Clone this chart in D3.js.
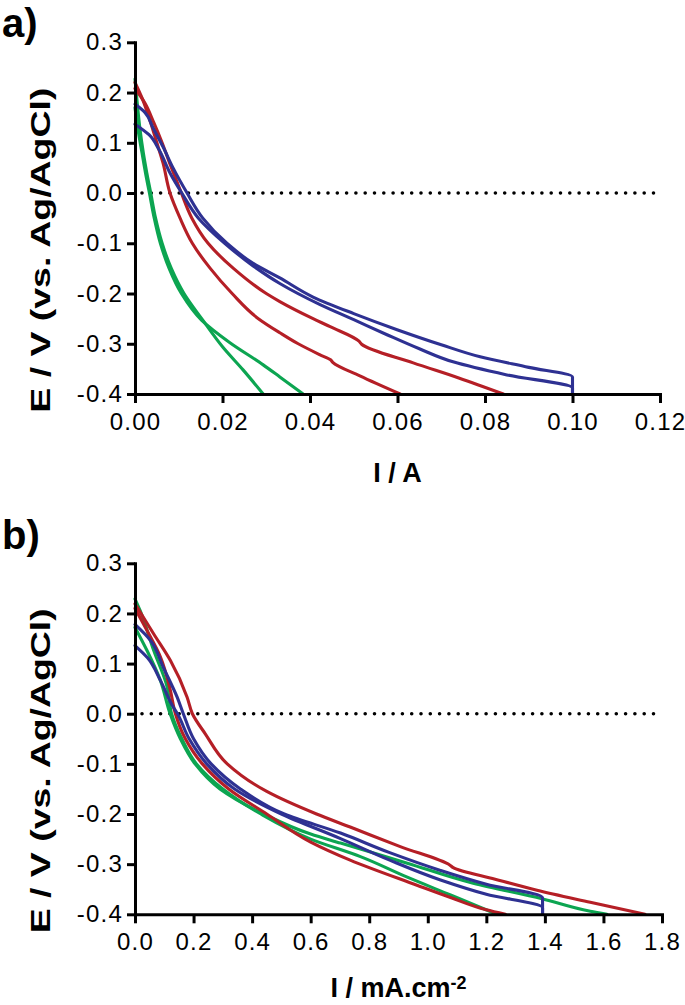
<!DOCTYPE html>
<html><head><meta charset="utf-8">
<script src="https://cdn.jsdelivr.net/npm/d3@7"></script>
<style>
html,body{margin:0;padding:0;background:#fff;}
svg{display:block;font-family:"Liberation Sans",Arial,Helvetica,sans-serif;}
</style></head><body>
<svg id="chart" width="685" height="1005"></svg>
<script>
// ---- tick values ----
const eTicks  = [-0.4, -0.3, -0.2, -0.1, 0.0, 0.1, 0.2, 0.3];
const iTicksA = [0.00, 0.02, 0.04, 0.06, 0.08, 0.10, 0.12];
const jTicksB = [0.0, 0.2, 0.4, 0.6, 0.8, 1.0, 1.2, 1.4, 1.6, 1.8];

// ---- panel a) : [I (A), E (V vs Ag/AgCl)] ----
const aGreen1 = [[0,0.227],[0.0005,0.18],[0.0011,0.13],[0.0019,0.08],[0.0027,0.04],[0.0036,0],[0.0047,-0.05],[0.0062,-0.1],[0.0083,-0.15],[0.0112,-0.2],[0.0155,-0.253],[0.0201,-0.307],[0.0247,-0.352],[0.0293,-0.4]];
const aGreen2 = [[0,0.17],[0.0008,0.12],[0.0016,0.08],[0.0024,0.04],[0.0033,0],[0.0044,-0.05],[0.0058,-0.1],[0.0078,-0.15],[0.0106,-0.2],[0.0152,-0.253],[0.0217,-0.298],[0.0293,-0.342],[0.0331,-0.366],[0.0384,-0.4]];
const aRed1   = [[0,0.22],[0.0018,0.185],[0.0034,0.145],[0.005,0.1],[0.0064,0.06],[0.008,0],[0.0103,-0.05],[0.0131,-0.1],[0.0172,-0.15],[0.0222,-0.2],[0.0282,-0.25],[0.0331,-0.278],[0.0373,-0.3],[0.0423,-0.322],[0.0447,-0.332],[0.0452,-0.337],[0.0514,-0.364],[0.0606,-0.4]];
const aRed2   = [[0,0.208],[0.0022,0.18],[0.0043,0.14],[0.0062,0.1],[0.0079,0.06],[0.0094,0.027],[0.0106,0],[0.013,-0.05],[0.0167,-0.1],[0.0225,-0.15],[0.030,-0.2],[0.0331,-0.216],[0.0407,-0.25],[0.0446,-0.266],[0.0512,-0.295],[0.0518,-0.301],[0.0636,-0.338],[0.074,-0.368],[0.0842,-0.4]];
const aBlue1  = [[0,0.177],[0.0023,0.16],[0.0041,0.13],[0.0064,0.092],[0.0087,0.05],[0.0119,0],[0.0155,-0.05],[0.021,-0.1],[0.027,-0.14],[0.0331,-0.169],[0.0407,-0.207],[0.05,-0.24],[0.0599,-0.272],[0.07,-0.302],[0.0789,-0.326],[0.09,-0.347],[0.1,-0.366],[0.1,-0.4]];
const aBlue2  = [[0,0.137],[0.0032,0.116],[0.0055,0.086],[0.008,0.04],[0.0107,0],[0.0145,-0.05],[0.0205,-0.1],[0.027,-0.145],[0.0331,-0.18],[0.0423,-0.222],[0.05,-0.252],[0.0576,-0.282],[0.065,-0.31],[0.0727,-0.336],[0.085,-0.362],[0.1,-0.388],[0.1,-0.4]];

// ---- panel b) : [I (mA.cm-2), E (V vs Ag/AgCl)] ----
const bGreen1 = [[0,0.229],[0.018,0.205],[0.064,0.126],[0.11,0.053],[0.125,0],[0.16,-0.05],[0.21,-0.1],[0.3,-0.15],[0.43,-0.2],[0.6,-0.25],[0.77,-0.285],[0.93,-0.326],[1.08,-0.362],[1.236,-0.4]];
const bGreen2 = [[0,0.172],[0.041,0.126],[0.087,0.066],[0.12,0],[0.155,-0.05],[0.205,-0.1],[0.29,-0.15],[0.44,-0.2],[0.6,-0.24],[0.702,-0.258],[0.93,-0.298],[1.155,-0.338],[1.39,-0.369],[1.555,-0.394],[1.612,-0.4]];
const bRed1   = [[0,0.21],[0.041,0.166],[0.087,0.113],[0.121,0.046],[0.138,0],[0.172,-0.05],[0.23,-0.1],[0.32,-0.15],[0.45,-0.2],[0.6,-0.256],[0.735,-0.292],[0.963,-0.342],[1.08,-0.367],[1.2,-0.391],[1.265,-0.4]];
const bRed2   = [[0,0.219],[0.064,0.159],[0.121,0.106],[0.178,0.033],[0.196,0],[0.24,-0.04],[0.315,-0.1],[0.45,-0.155],[0.62,-0.2],[0.735,-0.226],[0.906,-0.265],[1.076,-0.302],[1.087,-0.307],[1.23,-0.33],[1.373,-0.352],[1.555,-0.376],[1.742,-0.4]];
const bBlue1  = [[0,0.178],[0.053,0.146],[0.097,0.092],[0.144,0.033],[0.165,0],[0.2,-0.05],[0.26,-0.1],[0.36,-0.15],[0.51,-0.2],[0.702,-0.238],[0.87,-0.277],[1.041,-0.312],[1.2,-0.34],[1.392,-0.367],[1.392,-0.4]];
const bBlue2  = [[0,0.136],[0.042,0.112],[0.087,0.066],[0.131,0.013],[0.145,0],[0.185,-0.05],[0.245,-0.1],[0.34,-0.15],[0.5,-0.2],[0.702,-0.249],[0.87,-0.292],[1.041,-0.331],[1.2,-0.36],[1.392,-0.387],[1.392,-0.4]];

const GREEN = "#0ca551", RED = "#b51f26", BLUE = "#2e3192";

const svg = d3.select("#chart");

function drawPanel(cfg) {
  const g = svg.append("g");
  const x = d3.scaleLinear().domain(cfg.xDomain).range(cfg.xRange);
  const y = d3.scaleLinear().domain([-0.4, 0.3]).range(cfg.yRange);

  // zero reference line (dotted)
  g.append("line")
    .attr("x1", x(0) + 7).attr("x2", x(cfg.xDomain[1]))
    .attr("y1", y(0)).attr("y2", y(0))
    .attr("stroke", "#000").attr("stroke-width", 3.6)
    .attr("stroke-linecap", "round").attr("stroke-dasharray", "0,9.3");

  // curves
  const line = d3.line().x(d => x(d[0])).y(d => y(d[1])).curve(d3.curveMonotoneY);
  cfg.series.forEach(s => {
    g.append("path").attr("d", line(s.data))
      .attr("fill", "none").attr("stroke", s.color)
      .attr("stroke-width", 3.1).attr("stroke-linejoin", "round").attr("stroke-linecap", "round");
  });

  // axes
  const yAxis = d3.axisLeft(y).tickValues(eTicks).tickFormat(d => d.toFixed(1))
    .tickSize(8).tickSizeOuter(0).tickPadding(4);
  const xAxis = d3.axisBottom(x).tickValues(cfg.xTicks).tickFormat(d => d.toFixed(cfg.xDec))
    .tickSize(9).tickSizeOuter(0).tickPadding(10);

  const ga = g.append("g").attr("transform", `translate(${cfg.xRange[0]},0)`).call(yAxis);
  const gb = g.append("g").attr("transform", `translate(0,${cfg.yRange[0]})`).call(xAxis);
  [ga, gb].forEach(a => {
    a.select(".domain").attr("stroke", "#000").attr("stroke-width", 3).attr("stroke-linecap", "square");
    a.selectAll(".tick line").attr("stroke", "#000").attr("stroke-width", 3);
    a.selectAll(".tick text").attr("fill", "#000")
      .style("font-size", "24px").style("letter-spacing", "1.2px")
      .style("font-family", '"Liberation Sans", Arial, sans-serif');
  });

  // y title
  g.append("text")
    .attr("transform", `translate(50,${(cfg.yRange[0] + cfg.yRange[1]) / 2 + 32}) rotate(-90)`)
    .attr("text-anchor", "middle")
    .attr("textLength", 325).attr("lengthAdjust", "spacingAndGlyphs")
    .style("font-size", "28px").style("font-weight", "bold")
    .text("E / V (vs. Ag/AgCl)");

  // x title
  const xt = g.append("text")
    .attr("x", (cfg.xRange[0] + cfg.xRange[1]) / 2).attr("y", cfg.xTitleY)
    .attr("text-anchor", "middle")
    .style("font-size", "27px").style("font-weight", "bold");
  xt.append("tspan").text(cfg.xTitle);
  if (cfg.xSup) {
    xt.append("tspan").attr("dy", -8).style("font-size", "18px").text(cfg.xSup);
  }

  // panel letter
  g.append("text").attr("x", 2).attr("y", cfg.labelY)
    .style("font-size", "40px").style("font-weight", "bold")
    .text(cfg.label);
}

drawPanel({
  label: "a)", labelY: 37,
  xDomain: [0, 0.12], xRange: [135, 660], yRange: [394, 42.3],
  xTicks: iTicksA, xDec: 2,
  xTitle: "I / A", xTitleY: 482,
  series: [
    {data: aGreen1, color: GREEN}, {data: aGreen2, color: GREEN},
    {data: aRed1, color: RED}, {data: aRed2, color: RED},
    {data: aBlue1, color: BLUE}, {data: aBlue2, color: BLUE}
  ]
});

drawPanel({
  label: "b)", labelY: 549,
  xDomain: [0, 1.8], xRange: [135, 662], yRange: [914.3, 563.3],
  xTicks: jTicksB, xDec: 1,
  xTitle: "I / mA.cm", xSup: "-2", xTitleY: 997,
  series: [
    {data: bGreen1, color: GREEN}, {data: bGreen2, color: GREEN},
    {data: bRed1, color: RED}, {data: bRed2, color: RED},
    {data: bBlue1, color: BLUE}, {data: bBlue2, color: BLUE}
  ]
});
</script>
</body></html>
